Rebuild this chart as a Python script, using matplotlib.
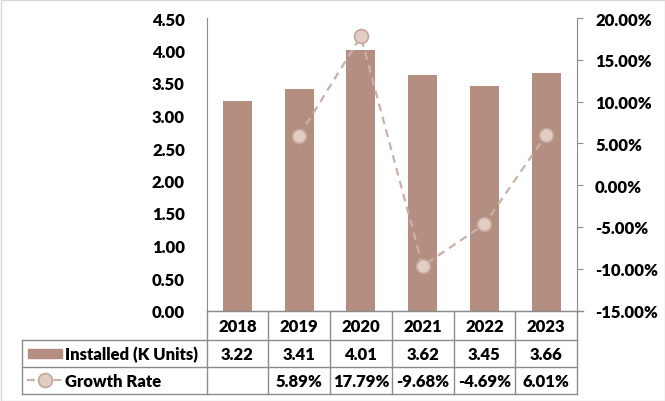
import matplotlib.pyplot as plt
from matplotlib.patches import Rectangle
from matplotlib.lines import Line2D
from matplotlib.ticker import FuncFormatter, MultipleLocator

# données
years = ['2018', '2019', '2020', '2021', '2022', '2023']
installed = [3.22, 3.41, 4.01, 3.62, 3.45, 3.66]
growth = [None, 5.89, 17.79, -9.68, -4.69, 6.01]
series_names = ['Installed (K Units)', 'Growth Rate']

bar_color = '#B48E80'
line_color = '#C9B1A9'
marker_face = '#E2CDC5'
marker_edge = '#C4A79C'
grid_gray = '#8C8C8C'

plt.rcParams['font.family'] = ['Lato', 'DejaVu Sans']
plt.rcParams['font.weight'] = 'heavy'
plt.rcParams['font.size'] = 12

W, H = 665, 402
fig = plt.figure(figsize=(W / 100, H / 100), dpi=100)

# zone du graphique en pixels
px_left, px_right, px_top, px_bottom = 206.5, 577, 19, 311.5
ax = fig.add_axes([px_left / W, 1 - px_bottom / H,
                   (px_right - px_left) / W, (px_bottom - px_top) / H])

x = list(range(len(years)))
ax.bar(x, installed, width=0.47, color=bar_color, zorder=2)
ax.set_xlim(-0.5, len(years) - 0.5)
ax.set_ylim(0, 4.5)
ax.yaxis.set_major_locator(MultipleLocator(0.5))
ax.yaxis.set_major_formatter(FuncFormatter(lambda v, p: f'{v:.2f}'))
ax.tick_params(axis='y', length=0, pad=15.5, labelsize=12)
ax.set_xticks([])
for s in ['top', 'right']:
    ax.spines[s].set_visible(False)
ax.spines['left'].set_color(grid_gray)
ax.spines['bottom'].set_color(grid_gray)

ax2 = ax.twinx()
gx = [i for i, g in zip(x, growth) if g is not None]
gy = [g for g in growth if g is not None]
ax2.plot(gx, gy, linestyle=(0, (3.5, 2.5)), color=line_color, linewidth=1.6,
         marker='o', markersize=10, markerfacecolor=marker_face,
         markeredgecolor=marker_edge, markeredgewidth=1.2, zorder=3)
ax2.set_ylim(-15, 20)
ax2.yaxis.set_major_locator(MultipleLocator(5))
ax2.yaxis.set_major_formatter(FuncFormatter(lambda v, p: f'{v:.2f}%'))
ax2.tick_params(axis='y', direction='out', length=4.5, width=0.8,
                color=grid_gray, pad=8.5, labelsize=12)
for s in ['top', 'left', 'bottom']:
    ax2.spines[s].set_visible(False)
ax2.spines['right'].set_color(grid_gray)

# tableau de données (axes en pixels sur toute la figure)
ov = fig.add_axes([0, 0, 1, 1])
ov.set_xlim(0, W)
ov.set_ylim(H, 0)
ov.axis('off')

tbl_left = 22
rows = [311.5, 340.5, 367.5, 395]
colw = (px_right - px_left) / len(years)
edges = [px_left + i * colw for i in range(len(years) + 1)]
lkw = dict(color=grid_gray, linewidth=1)

ov.plot([px_left, px_right], [rows[0], rows[0]], **lkw)
for r in rows[1:]:
    ov.plot([tbl_left, px_right], [r, r], **lkw)
for e in edges:
    ov.plot([e, e], [rows[0], rows[3]], **lkw)
ov.plot([tbl_left, tbl_left], [rows[1], rows[3]], **lkw)
ov.plot([px_right + 6, px_right], [rows[0], rows[0]], **lkw)

for i, yr in enumerate(years):
    cx = (edges[i] + edges[i + 1]) / 2
    ov.text(cx, (rows[0] + rows[1]) / 2 + 1, yr, ha='center', va='center')
    ov.text(cx, (rows[1] + rows[2]) / 2 + 1, f'{installed[i]:.2f}',
            ha='center', va='center')
    if growth[i] is not None:
        ov.text(cx, (rows[2] + rows[3]) / 2 + 1, f'{growth[i]:.2f}%',
                ha='center', va='center')

# clés de légende
y1 = (rows[1] + rows[2]) / 2
y2 = (rows[2] + rows[3]) / 2
ov.add_patch(Rectangle((28, y1 - 4.5), 34, 9, color=bar_color))
ov.text(65, y1 + 1, series_names[0], ha='left', va='center')
ov.add_line(Line2D([27, 62], [y2, y2], linestyle=(0, (3.5, 2.5)),
                   color=line_color, linewidth=1.6))
ov.add_line(Line2D([44.5], [y2], marker='o', markersize=10,
                   markerfacecolor=marker_face, markeredgecolor=marker_edge,
                   markeredgewidth=1.2))
ov.text(65, y2 + 1, series_names[1], ha='left', va='center')

# bordure de la figure
ov.add_patch(Rectangle((0.5, 0.5), W - 1, H - 1, fill=False,
                       edgecolor='#D9D9D9', linewidth=1))

fig.savefig('out.png', dpi=100)
